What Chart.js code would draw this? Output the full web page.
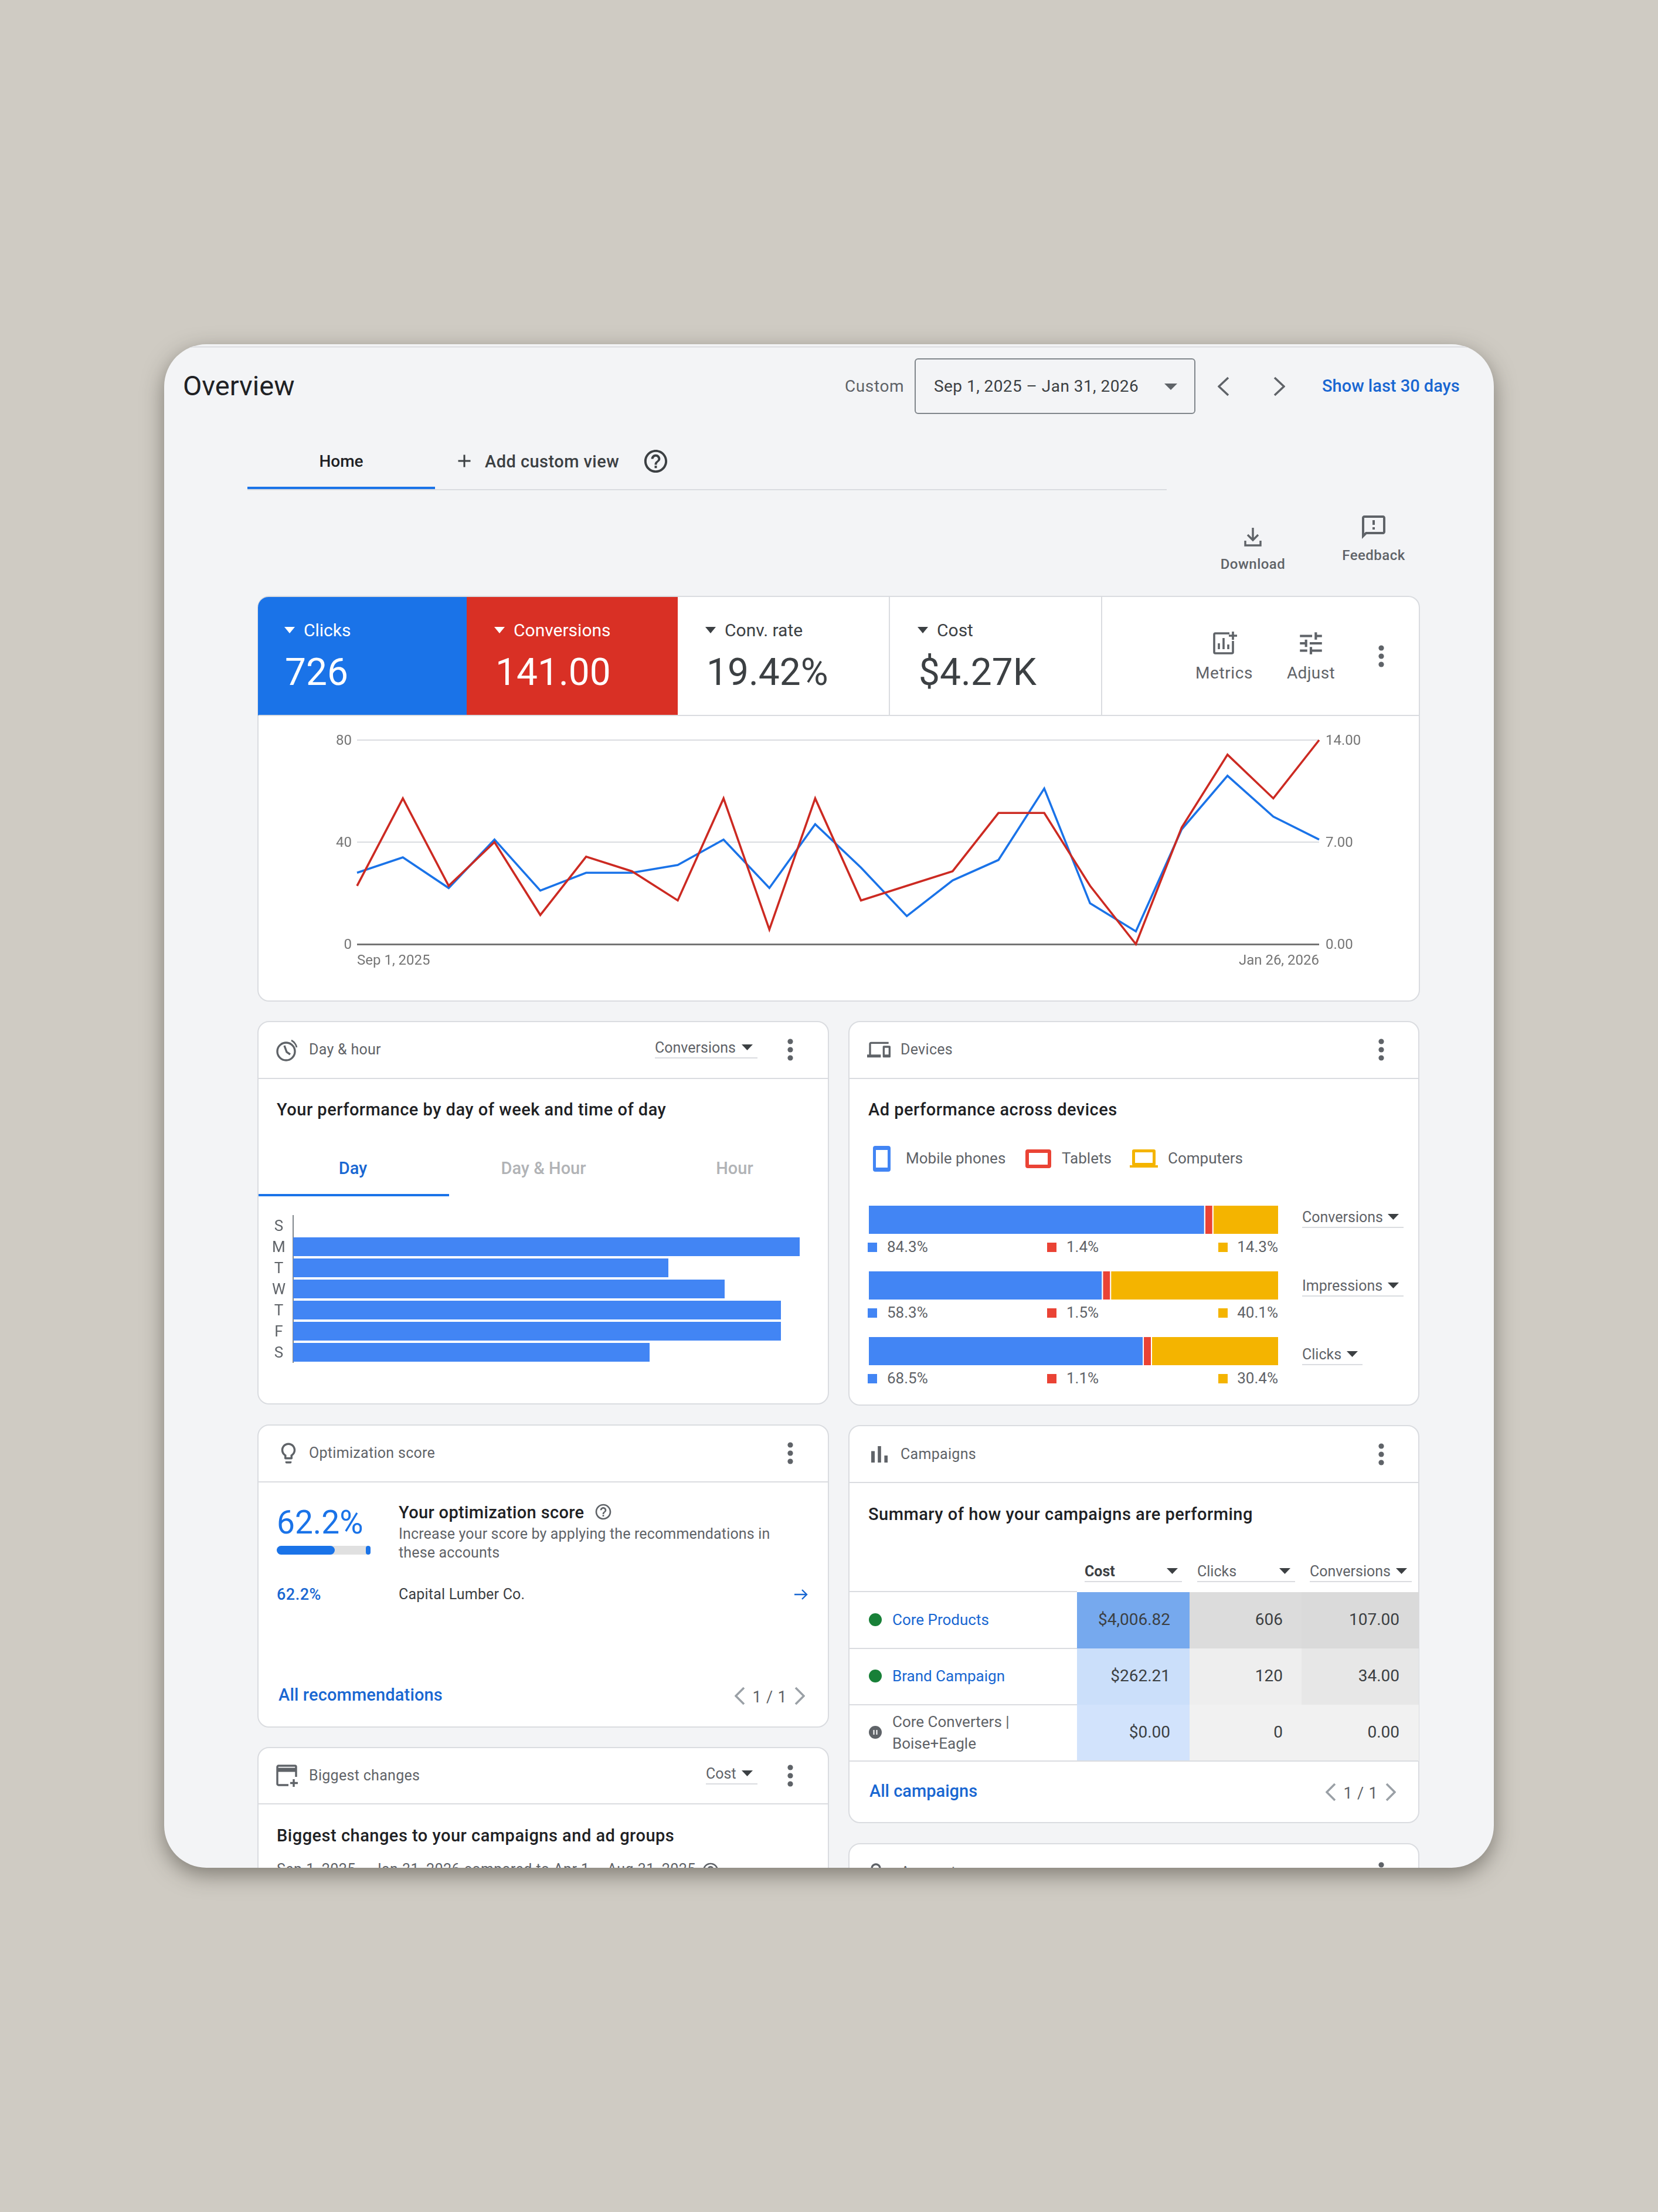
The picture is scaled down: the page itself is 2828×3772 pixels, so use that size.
<!DOCTYPE html>
<html>
<head>
<meta charset="utf-8">
<title>Overview</title>
<script src="https://cdn.jsdelivr.net/npm/chart.js@4/dist/chart.umd.min.js"></script>
<style>
    html, body { margin: 0; padding: 0; }
    body { width: 2828px; height: 3772px; background: #cfcbc3; position: relative; overflow: hidden; font-family: Roboto, sans-serif; }
    #panel { position: absolute; left: 280px; top: 587px; width: 2268px; height: 2598px; background: #f3f4f6; border-radius: 72px; overflow: hidden; box-shadow: 0 12px 36px rgba(50, 46, 38, .5); }
    #panel > * { position: absolute; }
    .t { white-space: nowrap; line-height: 1.2; }
    canvas { display: block; }
</style>
</head>
<body>
<div id="panel"></div>
<script>
// Trend chart
const weekLabels = ['Sep 1, 2025', 'Sep 8, 2025', 'Sep 15, 2025', 'Sep 22, 2025', 'Sep 29, 2025', 'Oct 6, 2025', 'Oct 13, 2025', 'Oct 20, 2025', 'Oct 27, 2025', 'Nov 3, 2025', 'Nov 10, 2025', 'Nov 17, 2025', 'Nov 24, 2025', 'Dec 1, 2025', 'Dec 8, 2025', 'Dec 15, 2025', 'Dec 22, 2025', 'Dec 29, 2025', 'Jan 5, 2026', 'Jan 12, 2026', 'Jan 19, 2026', 'Jan 26, 2026'];
const clicksByWeek = [28, 34, 22, 41, 21, 28, 28, 31, 41, 22, 47, 30, 11, 25, 33, 61, 16, 5, 45, 66, 50, 41];
const conversionsByWeek = [4, 10, 4, 7, 2, 6, 5, 3, 10, 1, 10, 3, 4, 5, 9, 9, 4, 0, 8, 13, 10, 14];

// Day of week chart
const dayLabels = ['S', 'M', 'T', 'W', 'T', 'F', 'S'];
const conversionsByDay = [0, 27, 20, 23, 26, 26, 19];

// Devices chart: bar lengths as drawn (tablets get a minimum width in the picture)
const deviceMetrics = ['Conversions', 'Impressions', 'Clicks'];
const mobileBars = [82.2, 57.2, 67.2];
const tabletBars = [2.0, 2.0, 2.0];
const computerBars = [15.8, 40.8, 30.8];
// Labels printed under the bars
const mobileShares = ['84.3%', '58.3%', '68.5%'];
const tabletShares = ['1.4%', '1.5%', '1.1%'];
const computerShares = ['14.3%', '40.1%', '30.4%'];

// Campaign table
const campaignCost = ['$4,006.82', '$262.21', '$0.00'];
const campaignClicks = ['606', '120', '0'];
const campaignConversions = ['107.00', '34.00', '0.00'];

const BLUE = '#1a73e8';
const RED = '#d93025';
const LINK = '#1967d2';
const INK = '#202124';
const DARK = '#3c4043';
const GREY = '#5f6368';
const RULE = '#dadce0';
const BAR_BLUE = '#4285f4';
const BAR_RED = '#ea4335';
const BAR_YELLOW = '#f4b400';

const panel = document.getElementById('panel');

// All helpers take page coordinates
function add(el, x, y) {
    el.style.left = (x - 280) + 'px';
    el.style.top = (y - 587) + 'px';
    panel.appendChild(el);
    return el;
}

function box(x, y, w, h, bg, extra) {
    const el = document.createElement('div');
    el.style.cssText = `width:${w}px;height:${h}px;background:${bg};box-sizing:border-box;${extra || ''}`;
    return add(el, x, y);
}

// x is the left edge, or the right edge / centre when align says so; cy is the vertical centre
function text(x, cy, str, size, color, opts) {
    opts = opts || {};
    const el = document.createElement('div');
    el.className = 't';
    el.textContent = str;
    const shift = opts.align === 'right' ? '-100%' : opts.align === 'center' ? '-50%' : '0';
    el.style.cssText = `font-size:${size}px;color:${color};font-weight:${opts.weight || 400};letter-spacing:${opts.spacing || 0}px;transform:translate(${shift},-50%);`;
    return add(el, x, cy + 1.5);
}

function svg(cx, cy, w, h, viewBox, inner) {
    const holder = document.createElement('div');
    holder.style.cssText = `width:${w}px;height:${h}px;`;
    holder.innerHTML = `<svg xmlns="http://www.w3.org/2000/svg" width="${w}" height="${h}" viewBox="${viewBox}" style="display:block">${inner}</svg>`;
    return add(holder, cx - w / 2, cy - h / 2);
}

function icon(cx, cy, size, path, color) {
    return svg(cx, cy, size, size, '0 0 24 24', `<path fill="${color || GREY}" d="${path}"/>`);
}

function triangle(cx, cy, w, h, color) {
    return svg(cx, cy, w, h, `0 0 ${w} ${h}`, `<polygon fill="${color}" points="0,0 ${w},0 ${w / 2},${h}"/>`);
}

function kebab(cx, cy) {
    return svg(cx, cy, 12, 40, '0 0 12 40', `<g fill="${GREY}"><circle cx="6" cy="6" r="4.6"/><circle cx="6" cy="20" r="4.6"/><circle cx="6" cy="34" r="4.6"/></g>`);
}

function chevron(cx, cy, dir, color, w, h) {
    const pts = dir < 0 ? `${w - 2},2 2,${h / 2} ${w - 2},${h - 2}` : `2,2 ${w - 2},${h / 2} 2,${h - 2}`;
    return svg(cx, cy, w, h, `0 0 ${w} ${h}`, `<polyline fill="none" stroke="${color}" stroke-width="3.6" points="${pts}"/>`);
}

function card(x, y, w, h) {
    return box(x, y, w, h, '#fff', `border:2px solid ${RULE};border-radius:20px;`);
}

function dropdown(x, cy, label, triX, lineEnd, lineY, bold) {
    text(x, cy, label, 25, bold ? DARK : GREY, { weight: bold ? 700 : 400 });
    triangle(triX, cy + 1, 19, 10, DARK);
    box(x, lineY, lineEnd - x, 2, RULE);
}

function pager(leftX, labelX, rightX, cy) {
    chevron(leftX, cy, -1, '#9aa0a6', 18, 32);
    text(labelX, cy, '1 / 1', 27, GREY, { align: 'center', spacing: .8 });
    chevron(rightX, cy, 1, '#9aa0a6', 18, 32);
}

const HELP_PATH = 'M11 18h2v-2h-2v2zm1-16C6.48 2 2 6.48 2 12s4.48 10 10 10 10-4.48 10-10S17.52 2 12 2zm0 18c-4.41 0-8-3.59-8-8s3.59-8 8-8 8 3.59 8 8-3.59 8-8 8zm0-14c-2.21 0-4 1.79-4 4h2c0-1.1.9-2 2-2s2 .9 2 2c0 2-3 1.75-3 5h2c0-2.25 3-2.5 3-5 0-2.21-1.79-4-4-4z';

// Page header
function drawHeader() {
    box(290, 590, 2248, 3, '#e2e3e6');
    text(312, 656, 'Overview', 47, INK);
    text(1441, 657, 'Custom', 28, GREY, { spacing: .6 });
    box(1560, 611, 479, 95, 'transparent', 'border:2.5px solid #80868b;border-radius:6px;');
    text(1593, 657, 'Sep 1, 2025 – Jan 31, 2026', 28, DARK, { spacing: .45 });
    triangle(1997, 659, 22, 11, GREY);
    chevron(2087, 659, -1, GREY, 20, 34);
    chevron(2182, 659, 1, GREY, 20, 34);
    text(2255, 656, 'Show last 30 days', 29, LINK, { weight: 500 });

    text(582, 785, 'Home', 28, INK, { align: 'center', weight: 500 });
    icon(792, 786, 36, 'M19 13h-6v6h-2v-6H5v-2h6V5h2v6h6v2z', DARK);
    text(827, 785, 'Add custom view', 29, DARK, { weight: 500, spacing: .45 });
    icon(1118, 786, 47, HELP_PATH, DARK);
    box(422, 834, 1568, 2, RULE);
    box(422, 830, 320, 4, BLUE);

    svg(2137, 916, 36, 36, '0 0 36 36', `<g fill="none" stroke="${GREY}" stroke-width="3.4"><path d="M18 2v20M9 14l9 9 9-9"/><path d="M5 24v8h26v-8"/></g>`);
    text(2137, 960, 'Download', 24, GREY, { align: 'center', spacing: .5, weight: 500 });
    icon(2343, 899, 48, 'M20 2H4c-1.1 0-1.99.9-1.99 2L2 22l4-4h14c1.1 0 2-.9 2-2V4c0-1.1-.9-2-2-2zm0 14H5.17L4 17.17V4h16v12zm-9-4h2v2h-2zm0-6h2v4h-2z');
    text(2343, 945, 'Feedback', 24, GREY, { align: 'center', spacing: .5, weight: 500 });
}

// Scorecards and the trend chart
function drawTrendCard() {
    card(439, 1016, 1983, 692);
    box(440, 1018, 356, 202, BLUE, 'border-top-left-radius:18px;');
    box(796, 1018, 360, 202, RED);
    box(1516, 1018, 2, 202, RULE);
    box(1878, 1018, 2, 202, RULE);
    box(441, 1219, 1980, 2, RULE);

    const tiles = [
        [494, 518, 486, 'Clicks', '726', '#fff', '#fff'],
        [852, 876, 845, 'Conversions', '141.00', '#fff', '#fff'],
        [1212, 1236, 1205, 'Conv. rate', '19.42%', DARK, DARK],
        [1574, 1598, 1567, 'Cost', '$4.27K', DARK, DARK]
    ];
    tiles.forEach(tile => {
        triangle(tile[0], 1074, 18, 11, tile[5]);
        text(tile[1], 1073, tile[3], 30, tile[5]);
        text(tile[2], 1145, tile[4], 64, tile[6]);
    });

    svg(2088, 1097, 44, 44, '0 0 44 44', `<g fill="none" stroke="${GREY}" stroke-width="3.6"><path d="M31 5H7a2 2 0 0 0-2 2v30a2 2 0 0 0 2 2h28a2 2 0 0 0 2-2V18"/><path d="M13 32V22M21 32V13M29 32V24"/><path d="M37 2v14M30 9h14"/></g>`);
    text(2088, 1146, 'Metrics', 28, GREY, { align: 'center', spacing: .6 });
    icon(2236, 1097, 50, 'M3 17v2h6v-2H3zM3 5v2h10V5H3zm10 16v-2h8v-2h-8v-2h-2v6h2zM7 9v2H3v2h4v2h2V9H7zm14 4v-2H11v2h10zm-6-4h2V7h4V5h-4V3h-2v6z');
    text(2236, 1146, 'Adjust', 28, GREY, { align: 'center', spacing: .4 });
    kebab(2356, 1119);
}

function drawDayCard() {
    card(439, 1741, 975, 654);
    box(441, 1838, 971, 2, RULE);
    svg(490, 1791, 42, 42, '0 0 42 42', `<g fill="none" stroke="${GREY}" stroke-width="3.4"><circle cx="19" cy="23" r="15"/><path d="M28 4a18 18 0 0 1 9 12" stroke-width="2.6"/><path d="M16 13l4 11 6 4"/></g>`);
    text(527, 1788, 'Day & hour', 25, GREY, { spacing: .3 });
    dropdown(1117, 1785, 'Conversions', 1274, 1292, 1803);
    kebab(1348, 1790);
    text(472, 1890, 'Your performance by day of week and time of day', 29, INK, { weight: 500, spacing: .5 });
    text(602, 1990, 'Day', 29, LINK, { align: 'center', weight: 500 });
    text(927, 1990, 'Day & Hour', 29, '#b1b3b6', { align: 'center', weight: 500 });
    text(1253, 1990, 'Hour', 29, '#b1b3b6', { align: 'center', weight: 500 });
    box(441, 2036, 325, 4, BLUE);
}

function drawDevicesCard() {
    card(1447, 1741, 974, 656);
    box(1449, 1838, 970, 2, RULE);
    icon(1499, 1790, 40, 'M4 6h18V4H4c-1.1 0-2 .9-2 2v11H0v3h14v-3H4V6zm19 2h-6c-.55 0-1 .45-1 1v10c0 .55.45 1 1 1h6c.55 0 1-.45 1-1V9c0-.55-.45-1-1-1zm-1 9h-4v-7h4v7z');
    text(1536, 1788, 'Devices', 25, GREY, { spacing: .3 });
    kebab(2356, 1790);
    text(1481, 1890, 'Ad performance across devices', 29, INK, { weight: 500, spacing: .5 });

    box(1489, 1954, 30, 44, 'transparent', `border:5px solid ${BAR_BLUE};border-top-width:7px;border-bottom-width:7px;border-radius:4px;`);
    text(1545, 1974, 'Mobile phones', 26, GREY);
    box(1749, 1960, 44, 32, 'transparent', `border:6px solid ${BAR_RED};border-radius:4px;`);
    text(1811, 1974, 'Tablets', 26, GREY);
    box(1931, 1960, 40, 28, 'transparent', `border:5px solid ${BAR_YELLOW};border-radius:3px;`);
    box(1927, 1987, 48, 4, BAR_YELLOW);
    text(1992, 1974, 'Computers', 26, GREY);

    const squareColors = [BAR_BLUE, BAR_RED, BAR_YELLOW];
    deviceMetrics.forEach((metric, i) => {
        const cy = 2127 + i * 112;
        box(1480, cy - 8, 16, 16, squareColors[0]);
        text(1513, cy - 1.5, mobileShares[i], 26, GREY);
        box(1786, cy - 8, 16, 16, squareColors[1]);
        text(1819, cy - 1.5, tabletShares[i], 26, GREY);
        box(2078, cy - 8, 16, 16, squareColors[2]);
        text(2180, cy - 1.5, computerShares[i], 26, GREY, { align: 'right' });
    });
    dropdown(2221, 2074, deviceMetrics[0], 2376, 2394, 2092);
    dropdown(2221, 2191, deviceMetrics[1], 2376, 2394, 2209);
    dropdown(2221, 2308, deviceMetrics[2], 2306, 2324, 2326);
}

function drawScoreCard() {
    card(439, 2429, 975, 517);
    box(441, 2526, 971, 2, RULE);
    icon(492, 2478, 42, 'M9 21c0 .55.45 1 1 1h4c.55 0 1-.45 1-1v-1H9v1zm3-19C8.14 2 5 5.14 5 9c0 2.38 1.19 4.47 3 5.74V17c0 .55.45 1 1 1h6c.55 0 1-.45 1-1v-2.26c1.81-1.27 3-3.36 3-5.74 0-3.86-3.14-7-7-7zm2.85 11.1l-.85.6V16h-4v-2.3l-.85-.6C7.8 12.16 7 10.63 7 9c0-2.76 2.24-5 5-5s5 2.24 5 5c0 1.63-.8 3.16-2.15 4.1z');
    text(527, 2476, 'Optimization score', 25, GREY, { spacing: .3 });
    kebab(1348, 2478);

    text(472, 2594, '62.2%', 55, BLUE);
    box(472, 2636, 160, 15, '#e0e0e0', 'border-radius:8px;');
    box(472, 2636, 99, 15, BLUE, 'border-radius:8px;');
    box(624, 2636, 8, 15, BLUE, 'border-radius:4px;');
    text(680, 2577, 'Your optimization score', 29, INK, { weight: 500, spacing: .35 });
    icon(1029, 2578, 32, HELP_PATH, GREY);
    text(680, 2614, 'Increase your score by applying the recommendations in', 25, GREY, { spacing: .15 });
    text(680, 2646, 'these accounts', 25, GREY, { spacing: .15 });
    text(472, 2717, '62.2%', 27, LINK, { weight: 500, spacing: .5 });
    text(680, 2717, 'Capital Lumber Co.', 25, DARK, { spacing: .2 });
    svg(1366, 2719, 24, 20, '0 0 24 20', `<g fill="none" stroke="${LINK}" stroke-width="2.4"><path d="M1 10h21M14 2l8 8-8 8"/></g>`);
    text(475, 2888, 'All recommendations', 29, LINK, { weight: 500, spacing: .15 });
    pager(1262, 1313, 1364, 2892);
}

function drawChangesCard() {
    card(439, 2979, 975, 400);
    box(441, 3075, 971, 2, RULE);
    svg(490, 3028, 40, 40, '0 0 40 40', `<g fill="none" stroke="${GREY}" stroke-width="3.4"><path d="M22 36H5a2 2 0 0 1-2-2V5a2 2 0 0 1 2-2h28a2 2 0 0 1 2 2v17"/><path d="M3 10h32" stroke-width="7"/><path d="M31 26v13M25 32.5h13"/></g>`);
    text(527, 3026, 'Biggest changes', 25, GREY, { spacing: .3 });
    dropdown(1204, 3023, 'Cost', 1274, 1292, 3041);
    kebab(1348, 3028);
    text(472, 3128, 'Biggest changes to your campaigns and ad groups', 29, INK, { weight: 500, spacing: .5 });
    text(472, 3186, 'Sep 1, 2025 – Jan 31, 2026 compared to Apr 1 – Aug 31, 2025', 25, GREY, { spacing: .45 });
    icon(1212, 3190, 32, HELP_PATH, GREY);
}

function drawCampaignsCard() {
    card(1447, 2430, 974, 679);
    box(1449, 2527, 970, 2, RULE);
    icon(1500, 2480, 48, 'M5 9.2h3V19H5zM10.6 5h2.8v14h-2.8zm5.6 8H19v6h-2.8z');
    text(1536, 2478, 'Campaigns', 25, GREY, { spacing: .3 });
    kebab(2356, 2480);
    text(1481, 2580, 'Summary of how your campaigns are performing', 29, INK, { weight: 500, spacing: .5 });

    dropdown(1850, 2678, 'Cost', 1999, 2016, 2696, true);
    dropdown(2042, 2678, 'Clicks', 2191, 2209, 2696);
    dropdown(2234, 2678, 'Conversions', 2390, 2408, 2696);

    const costShades = ['#76a9ee', '#cbdffa', '#d2e3fc'];
    const clickShades = ['#dcdcdc', '#eeeeee', '#f1f1f1'];
    const convShades = ['#dadada', '#e7e7e7', '#f1f1f1'];
    campaignCost.forEach((cost, i) => {
        const top = 2715 + i * 96;
        const cy = top + 45;
        box(1837, top, 192, 96, costShades[i]);
        box(2029, top, 191, 96, clickShades[i]);
        box(2220, top, 200, 96, convShades[i]);
        text(1996, cy, cost, 28, DARK, { align: 'right' });
        text(2188, cy, campaignClicks[i], 28, DARK, { align: 'right' });
        text(2387, cy, campaignConversions[i], 28, DARK, { align: 'right' });
    });
    box(1449, 2713, 388, 2, RULE);
    box(1449, 2810, 388, 2, RULE);
    box(1449, 2906, 388, 2, RULE);
    box(1449, 3002, 970, 2, RULE);

    box(1482, 2751, 22, 22, '#188038', 'border-radius:50%;');
    text(1522, 2761, 'Core Products', 26, LINK);
    box(1482, 2847, 22, 22, '#188038', 'border-radius:50%;');
    text(1522, 2857, 'Brand Campaign', 26, LINK);
    svg(1493, 2954, 22, 22, '0 0 22 22', `<circle cx="11" cy="11" r="11" fill="${GREY}"/><path d="M8.5 7v8M13.5 7v8" stroke="#fff" stroke-width="2"/>`);
    text(1522, 2935, 'Core Converters |', 26, GREY);
    text(1522, 2972, 'Boise+Eagle', 26, GREY);

    text(1483, 3052, 'All campaigns', 29, LINK, { weight: 500 });
    pager(2270, 2321, 2372, 3056);

    card(1447, 3143, 974, 300);
    svg(1494, 3192, 34, 34, '0 0 34 34', `<g fill="none" stroke="${GREY}" stroke-width="3.4"><circle cx="17" cy="11" r="7"/><path d="M4 31c0-6 7-9 13-9s13 3 13 9"/></g>`);
    text(1536, 3191, 'Accounts', 25, GREY, { spacing: .3 });
    kebab(2356, 3194);
}

// Canvas placed at page coordinates, sized by attributes so the plot stays put
function makeCanvas(x, y, w, h) {
    const canvas = document.createElement('canvas');
    canvas.width = w;
    canvas.height = h;
    canvas.style.width = w + 'px';
    canvas.style.height = h + 'px';
    return add(canvas, x, y);
}

// Axis width or height is fixed here, and the room Chart.js keeps for overhanging labels is dropped
function fixAxis(size) {
    return function(scale) {
        if (scale.isHorizontal()) {
            scale.height = size;
        } else {
            scale.width = size;
        }
        scale.paddingTop = 0;
        scale.paddingBottom = 0;
        scale.paddingLeft = 0;
        scale.paddingRight = 0;
    };
}

function initTrendChart() {
    const ctx = makeCanvas(540, 1240, 1785, 430);
    new Chart(ctx, {
        type: 'line',
        data: {
            labels: weekLabels,
            datasets: [
                { label: 'Conversions', data: conversionsByWeek, yAxisID: 'right', borderColor: '#cc2a22', borderWidth: 3.6, order: 0 },
                { label: 'Clicks', data: clicksByWeek, yAxisID: 'left', borderColor: BLUE, borderWidth: 3.6, order: 1 }
            ]
        },
        options: {
            responsive: false,
            animation: false,
            devicePixelRatio: 1,
            layout: { padding: { top: 22 } },
            clip: false,
            elements: { point: { radius: 0 }, line: { tension: 0 } },
            plugins: { legend: { display: false }, tooltip: { enabled: false } },
            scales: {
                x: {
                    border: { display: false },
                    grid: { display: false },
                    afterFit: fixAxis(60),
                    ticks: {
                        autoSkip: false,
                        maxRotation: 0,
                        align: 'inner',
                        padding: 7,
                        color: '#757575',
                        font: { size: 24 },
                        callback: function(value, index) {
                            return index === 0 || index === weekLabels.length - 1 ? weekLabels[index] : '';
                        }
                    }
                },
                left: {
                    position: 'left',
                    min: 0,
                    max: 80,
                    border: { display: false },
                    afterFit: fixAxis(69),
                    grid: {
                        drawTicks: false,
                        lineWidth: ctx => ctx.tick.value === 0 ? 3 : 2,
                        color: ctx => ctx.tick.value === 0 ? '#757575' : RULE
                    },
                    ticks: { stepSize: 40, padding: 9, labelOffset: 2, color: '#757575', font: { size: 24 } }
                },
                right: {
                    position: 'right',
                    min: 0,
                    max: 14,
                    border: { display: false },
                    afterFit: fixAxis(75),
                    grid: { display: false, drawTicks: false },
                    ticks: {
                        stepSize: 7,
                        padding: 11,
                        labelOffset: 2,
                        color: '#757575',
                        font: { size: 24 },
                        callback: value => value.toFixed(2)
                    }
                }
            }
        }
    });
}

function initDayChart() {
    const ctx = makeCanvas(450, 2072, 914, 252);
    new Chart(ctx, {
        type: 'bar',
        data: {
            labels: dayLabels,
            datasets: [{ data: conversionsByDay, backgroundColor: BAR_BLUE, barPercentage: 0.89, categoryPercentage: 1 }]
        },
        options: {
            indexAxis: 'y',
            responsive: false,
            animation: false,
            devicePixelRatio: 1,
            plugins: { legend: { display: false }, tooltip: { enabled: false } },
            scales: {
                x: { display: false, min: 0, max: 27 },
                y: {
                    afterFit: fixAxis(50),
                    border: { color: '#80868b', width: 2 },
                    grid: { display: false },
                    ticks: { crossAlign: 'center', padding: 5, labelOffset: 2, color: GREY, font: { size: 26 } }
                }
            }
        }
    });
}

function initDevicesChart() {
    const ctx = makeCanvas(1482, 2024, 698, 336);
    const gap = { right: 2 };
    new Chart(ctx, {
        type: 'bar',
        data: {
            labels: deviceMetrics,
            datasets: [
                { label: 'Mobile phones', data: mobileBars, backgroundColor: BAR_BLUE, borderColor: '#fff', borderWidth: gap, borderSkipped: false },
                { label: 'Tablets', data: tabletBars, backgroundColor: BAR_RED, borderColor: '#fff', borderWidth: gap, borderSkipped: false },
                { label: 'Computers', data: computerBars, backgroundColor: BAR_YELLOW, borderWidth: 0 }
            ]
        },
        options: {
            indexAxis: 'y',
            responsive: false,
            animation: false,
            devicePixelRatio: 1,
            barPercentage: 48 / 112,
            categoryPercentage: 1,
            plugins: { legend: { display: false }, tooltip: { enabled: false } },
            scales: {
                x: { display: false, stacked: true, min: 0, max: 100 },
                y: { display: false, stacked: true }
            }
        }
    });
}

document.addEventListener('DOMContentLoaded', function() {
    Chart.defaults.font.family = 'Roboto, sans-serif';

    drawHeader();
    drawTrendCard();
    drawDayCard();
    drawDevicesCard();
    drawScoreCard();
    drawChangesCard();
    drawCampaignsCard();

    initTrendChart();
    initDayChart();
    initDevicesChart();
});
</script>
</body>
</html>
